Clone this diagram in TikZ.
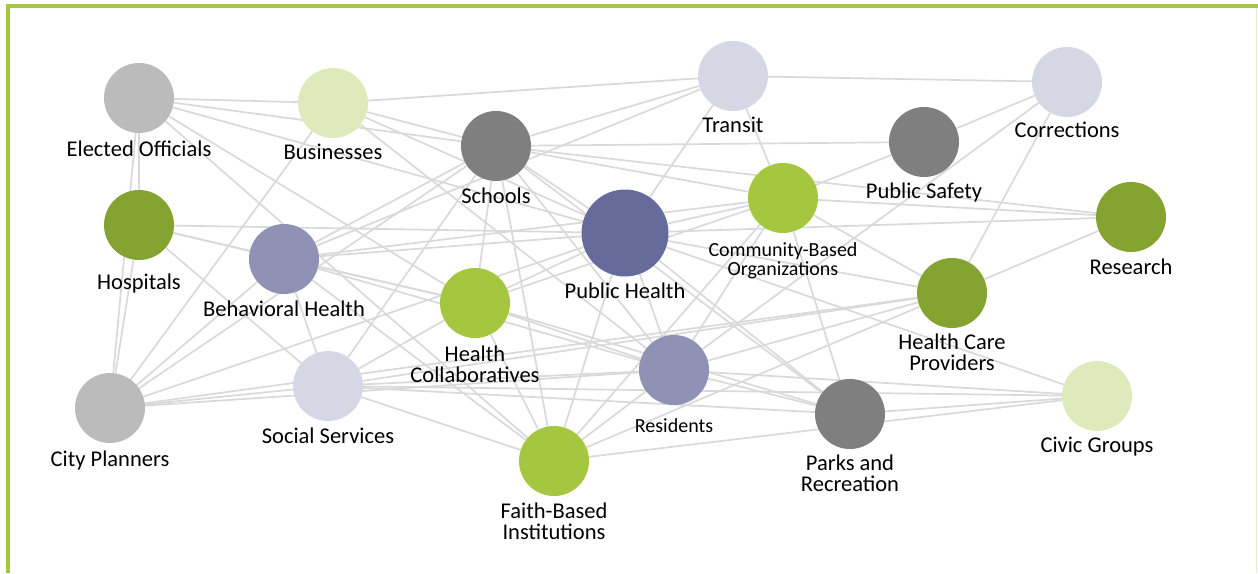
\documentclass[tikz,border=0pt]{standalone}
\usepackage{fontspec}
\setmainfont{Carlito}
\usetikzlibrary{positioning,backgrounds}

\definecolor{paleGray}{HTML}{BBBBBB}
\definecolor{darkGray}{HTML}{7F7F7F}
\definecolor{paleLime}{HTML}{DFEABC}
\definecolor{lime}{HTML}{A4C73F}
\definecolor{olive}{HTML}{84A331}
\definecolor{paleLilac}{HTML}{D5D7E4}
\definecolor{lilac}{HTML}{8F91B5}
\definecolor{deepLilac}{HTML}{676B9C}
\definecolor{linkGray}{HTML}{D9D9D9}
\definecolor{edgeLime}{HTML}{E4ECC8}

\begin{document}
\begin{tikzpicture}[x=1pt,y=-1pt,
    actor/.style={circle,draw=none,minimum size=70pt,inner sep=0pt},
    lbl/.style={inner sep=0pt,align=center,font=\fontsize{22.5}{21}\selectfont},
    small/.style={font=\fontsize{20}{19}\selectfont},
    link/.style={draw=linkGray,line width=1.7pt}]
    \useasboundingbox (0,0) rectangle (1258,573);

    % frame
    \draw[lime,line width=4pt] (6,6) -- (1258,6);
    \draw[lime,line width=4pt] (8,4) -- (8,573);
    \draw[edgeLime,line width=1.2pt] (1256.5,8) -- (1256.5,573);

    % actors
    \node[actor,fill=paleGray]  (eo)  at (139,98)  {};
    \node[actor,fill=paleLime]  (bu)  at (333,103) {};
    \node[actor,fill=paleLilac] (tr)  at (733,76)  {};
    \node[actor,fill=paleLilac] (co)  at (1067,82) {};
    \node[actor,fill=darkGray]  (sc)  at (496,146) {};
    \node[actor,fill=darkGray]  (ps)  at (924,142) {};
    \node[actor,fill=olive]     (ho)  at (139,225) {};
    \node[actor,fill=lime]      (cbo) at (783,198) {};
    \node[actor,fill=olive]     (re)  at (1131,217) {};
    \node[actor,fill=deepLilac,minimum size=87pt] (ph) at (625,233) {};
    \node[actor,fill=lilac]     (bh)  at (284,259) {};
    \node[actor,fill=lime]      (hc)  at (475,303) {};
    \node[actor,fill=olive]     (hcp) at (952,293) {};
    \node[actor,fill=paleGray]  (cp)  at (110,408) {};
    \node[actor,fill=paleLilac] (ss)  at (328,386) {};
    \node[actor,fill=lilac]     (res) at (674,370) {};
    \node[actor,fill=lime]      (fbi) at (554,461) {};
    \node[actor,fill=darkGray]  (pr)  at (850,414) {};
    \node[actor,fill=paleLime]  (cg)  at (1097,396) {};

    % labels
    \node[lbl] (eo_l)  [below=7pt of eo]  {Elected Officials};
    \node[lbl] (bu_l)  [below=6pt of bu]  {Businesses};
    \node[lbl] (tr_l)  [below=6pt of tr]  {Transit};
    \node[lbl] (co_l)  [below=5pt of co]  {Corrections};
    \node[lbl] (sc_l)  [below=6pt of sc]  {Schools};
    \node[lbl] (ps_l)  [below=5pt of ps]  {Public Safety};
    \node[lbl] (ho_l)  [below=13pt of ho] {Hospitals};
    \node[lbl,small] (cbo_l) [below=9pt of cbo] {Community-Based\\Organizations};
    \node[lbl] (re_l)  [below=6pt of re]  {Research};
    \node[lbl] (ph_l)  [below=6pt of ph]  {Public Health};
    \node[lbl] (bh_l)  [below=6pt of bh]  {Behavioral Health};
    \node[lbl] (hc_l)  [below=7pt of hc]  {Health\\Collaboratives};
    \node[lbl] (hcp_l) [below=5pt of hcp] {Health Care\\Providers};
    \node[lbl] (cp_l)  [below=7pt of cp]  {City Planners};
    \node[lbl] (ss_l)  [below=6pt of ss]  {Social Services};
    \node[lbl,small] (res_l) [below=13pt of res] {Residents};
    \node[lbl] (fbi_l) [below=6pt of fbi] {Faith-Based\\Institutions};
    \node[lbl] (pr_l)  [below=5pt of pr]  {Parks and\\Recreation};
    \node[lbl] (cg_l)  [below=6pt of cg]  {Civic Groups};

    % links
    \begin{scope}[on background layer]
    \path[link]
        (eo) edge (bu)  (eo) edge (sc)  (eo) edge (ph)  (eo) edge (hc)
        (eo) edge (fbi) (eo) edge (ho)  (eo) edge (cp)
        (bu) edge (tr)  (bu) edge (cp)  (bu) edge (sc)  (bu) edge (ph)
        (bu) edge (res)
        (tr) edge (co)  (tr) edge (sc)  (tr) edge (ph)  (tr) edge (cbo)
        (tr) edge (bh)
        (co) edge (ps)  (co) edge (res) (co) edge (hcp)
        (sc) edge (ps)  (sc) edge (cbo) (sc) edge (re)  (sc) edge (ph)
        (sc) edge (hc)  (sc) edge (fbi) (sc) edge (res) (sc) edge (pr)
        (sc) edge (ss)  (sc) edge (bh)  (sc) edge (cp)
        (ps) edge (cbo)
        (cbo) edge (re) (cbo) edge (ph) (cbo) edge (hc) (cbo) edge (res)
        (cbo) edge (fbi) (cbo) edge (pr) (cbo) edge (bh) (cbo) edge (hcp)
        (ho) edge (cp)  (ho) edge (bh)  (ho) edge (ph)  (ho) edge (ss)
        (ho) edge (hc)
        (bh) edge (ss)  (bh) edge (cp)  (bh) edge (fbi) (bh) edge (ph)
        (bh) edge (res) (bh) edge (hc)
        (cp) edge (ss)  (cp) edge (res) (cp) edge (ph)  (cp) edge (hcp)
        (ss) edge (hc)  (ss) edge (hcp) (ss) edge (res) (ss) edge (pr)
        (ss) edge (cg)  (ss) edge (fbi)
        (hc) edge (ph)  (hc) edge (res) (hc) edge (fbi) (hc) edge (pr)
        (ph) edge (re)  (ph) edge (cg)  (ph) edge (pr)  (ph) edge (res)
        (ph) edge (fbi) (ph) edge (hcp)
        (res) edge (hcp) (res) edge (cg) (res) edge (pr) (res) edge (fbi)
        (fbi) edge (cg) (fbi) edge (hcp)
        (pr) edge (cg)
        (hcp) edge (re);
    \end{scope}
\end{tikzpicture}
\end{document}
